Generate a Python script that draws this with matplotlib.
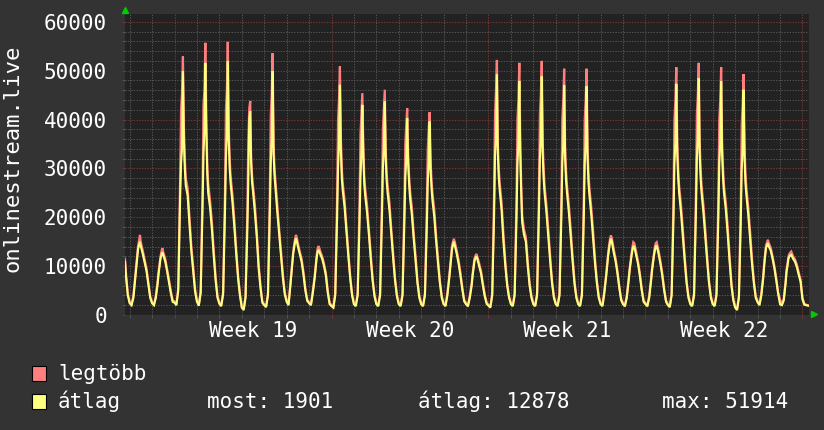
import matplotlib
matplotlib.use("Agg")
import matplotlib.pyplot as plt
from matplotlib.patches import Rectangle

# hours relative to the start of week 19; one row of values per day
offsets = [0, 2, 4, 6, 7, 8, 9, 10, 11, 12, 14, 16, 18, 20, 22]
days = list(range(-2, 28))

lead_hours = [-53, -52, -50]
lead_avg = [10900, 8000, 4000]
lead_max = [11500, 8600, 4400]

tail_hours = [672, 674, 676, 678]
tail_avg = [3200, 2100, 2000, 1901]
tail_max = [3500, 2300, 2100, 2000]

avg_vals = [
    2400, 2000, 3500, 7500, 9500, 11500, 13500, 14300, 15000, 14000, 12500, 10800, 9000, 6200, 3500,   # d-2
    2400, 2000, 3500, 6500, 8500, 10000, 11500, 12300, 12800, 12200, 11000, 9000, 6800, 4500, 2700,    # d-1
    2500, 2000, 5000, 24000, 31000, 34000, 49900, 36000, 30000, 26500, 24500, 18500, 13000, 9000, 4800,  # d0
    2700, 1900, 4500, 22000, 33000, 38000, 51600, 38000, 29000, 25000, 22000, 17500, 12000, 7000, 3500,
    2300, 1800, 4200, 21000, 32000, 37000, 51900, 36000, 30000, 27000, 23000, 18000, 12500, 7500, 4000,
    1500, 1000, 3500, 18000, 28000, 40000, 41700, 31000, 27000, 25300, 21000, 16000, 9600, 5500, 2500,
    2000, 1600, 4000, 21000, 31000, 36000, 49900, 33000, 28500, 26000, 21000, 16500, 12000, 7500, 4200,
    2700, 2000, 6000, 10500, 12500, 13700, 15000, 15700, 15000, 14000, 12500, 10900, 8200, 5000, 2900,  # d5
    2400, 2000, 4500, 7500, 9500, 11500, 12800, 13300, 13000, 12400, 11500, 10000, 8000, 4500, 2200,
    1800, 1500, 4000, 20000, 30000, 35000, 47100, 34000, 28000, 25500, 22000, 17000, 12000, 7500, 4000,  # d7
    2200, 1800, 4000, 19000, 28000, 33000, 43000, 33000, 27000, 24500, 21000, 16500, 11500, 7000, 3800,
    2200, 1800, 4000, 20000, 30000, 34000, 43700, 32000, 27500, 25000, 21500, 16500, 11500, 7000, 3800,
    2200, 1800, 4000, 19000, 28000, 32000, 40300, 31000, 27000, 24000, 20500, 15500, 11000, 6500, 3500,
    2200, 1800, 4000, 18000, 27000, 31000, 39600, 30000, 26000, 23500, 20000, 15000, 10500, 6500, 3500,
    2200, 1800, 4000, 7500, 9500, 11500, 13500, 14300, 15000, 14200, 12500, 10500, 8000, 5200, 2800,   # d12
    2200, 1800, 3500, 6000, 8000, 9500, 11000, 11600, 12000, 11500, 10000, 8500, 6000, 3800, 2300,
    1900, 1500, 4000, 20500, 32800, 36000, 49200, 32800, 28000, 25500, 21500, 15000, 10000, 6000, 3500,  # d14
    2200, 1800, 4000, 20000, 31000, 35000, 47900, 33000, 25000, 19000, 16400, 15000, 10000, 6000, 3500,
    2200, 1800, 4000, 21000, 32000, 36000, 48800, 33000, 28000, 25000, 21000, 16000, 11000, 6500, 3500,
    2200, 1800, 4000, 20000, 31000, 35000, 47000, 32000, 27500, 25000, 21000, 16000, 11000, 6500, 3500,
    2200, 1800, 4000, 20000, 31000, 35000, 46800, 32000, 27000, 24500, 20500, 15500, 10500, 6500, 3500,
    2200, 1800, 4500, 8000, 10000, 12000, 13500, 14800, 15600, 15000, 12800, 11000, 8500, 5500, 3000,  # d19
    2200, 1800, 3500, 7000, 9000, 10500, 12000, 13200, 14000, 14000, 12300, 10500, 8000, 5000, 2700,
    2200, 1800, 3500, 7000, 9000, 10500, 12000, 13200, 14000, 14200, 12500, 10500, 8000, 5000, 2700,
    2000, 1600, 4000, 20000, 31000, 35000, 47300, 33000, 28000, 25000, 21000, 16000, 11000, 6500, 3500,  # d22
    2200, 1800, 4000, 21000, 32000, 36000, 48500, 33000, 28000, 25000, 21000, 16000, 11000, 6500, 3500,
    2200, 1800, 4000, 20000, 31000, 35000, 47800, 33000, 28000, 25000, 21500, 16500, 11000, 6000, 3000,
    1500, 1000, 3500, 19000, 30000, 34000, 46100, 32000, 27000, 24500, 20500, 15500, 10500, 6500, 3500,
    2600, 2000, 4000, 7500, 10000, 12000, 13700, 14200, 14700, 14000, 13200, 11500, 9500, 7000, 4300,  # d26
    2200, 2000, 3000, 6500, 8900, 10000, 11500, 12000, 12200, 12300, 11500, 10900, 9800, 8200, 6800,
]

max_vals = [
    2600, 2200, 4000, 8000, 10000, 12000, 14200, 15200, 16400, 14800, 13200, 11400, 9500, 6700, 3800,
    2600, 2200, 4000, 7000, 9000, 10500, 12000, 13000, 13700, 12800, 11600, 9500, 7300, 5000, 3000,
    2800, 2200, 5500, 28000, 42000, 45400, 52900, 38600, 32000, 28000, 26000, 20000, 14000, 9800, 5300,
    3000, 2100, 5000, 26000, 43000, 46000, 55700, 40000, 31000, 27000, 23500, 19000, 13000, 7800, 3900,
    2500, 2000, 4700, 25000, 42000, 46000, 55900, 38500, 32000, 28500, 24500, 19500, 13500, 8200, 4400,
    1700, 1200, 4000, 22000, 36000, 42300, 43800, 32000, 28500, 26500, 22500, 17000, 10500, 6000, 2800,
    2200, 1800, 4500, 25000, 41000, 45000, 53600, 35000, 30000, 27500, 22500, 17500, 13000, 8200, 4600,
    3000, 2200, 6500, 11000, 13000, 14300, 15600, 16400, 15700, 14700, 13000, 11500, 8800, 5500, 3200,
    2600, 2200, 5000, 8000, 10000, 12000, 13500, 14100, 13700, 13000, 12000, 10500, 8500, 5000, 2500,
    2000, 1700, 4500, 24000, 40000, 44000, 50900, 36500, 30000, 27000, 23500, 18000, 13000, 8000, 4400,
    2400, 2000, 4500, 23000, 37000, 41000, 45400, 35000, 28500, 26000, 22500, 17500, 12500, 7500, 4200,
    2400, 2000, 4500, 24000, 38000, 42000, 46100, 34000, 29000, 26500, 23000, 17500, 12500, 7500, 4200,
    2400, 2000, 4500, 23000, 35000, 39000, 42300, 33000, 28500, 25500, 22000, 16500, 12000, 7000, 3900,
    2400, 2000, 4500, 22000, 34000, 38000, 41500, 32000, 27500, 25000, 21500, 16000, 11500, 7000, 3900,
    2400, 2000, 4500, 8000, 10000, 12000, 14200, 15000, 15600, 14900, 13200, 11200, 8600, 5600, 3100,
    2400, 2000, 4000, 6500, 8500, 10000, 11600, 12100, 12500, 12000, 10600, 9000, 6500, 4200, 2600,
    2100, 1700, 4500, 25000, 41000, 45800, 52200, 35000, 30000, 27000, 23000, 16500, 11000, 6500, 3900,
    2400, 2000, 4500, 24000, 40000, 44000, 51600, 35500, 27000, 20500, 17500, 16000, 11000, 6500, 3900,
    2400, 2000, 4500, 25000, 41000, 45000, 52000, 35500, 30000, 26500, 22500, 17500, 12000, 7000, 3900,
    2400, 2000, 4500, 24000, 40000, 44000, 50400, 34500, 29500, 26500, 22500, 17500, 12000, 7000, 3900,
    2400, 2000, 4500, 24000, 40000, 44000, 50400, 34500, 29000, 26000, 22000, 17000, 11500, 7000, 3900,
    2400, 2000, 5000, 8500, 10500, 12500, 14200, 15500, 16300, 15700, 13500, 11600, 9000, 5900, 3300,
    2400, 2000, 4000, 7500, 9500, 11000, 12600, 13900, 14900, 14700, 13000, 11000, 8500, 5400, 3000,
    2400, 2000, 4000, 7500, 9500, 11000, 12600, 13900, 14700, 14900, 13200, 11000, 8500, 5400, 3000,
    2200, 1800, 4500, 24000, 40000, 44000, 50700, 35500, 30000, 26500, 22500, 17500, 12000, 7000, 3900,
    2400, 2000, 4500, 25000, 41000, 45000, 51600, 35500, 30000, 26500, 22500, 17500, 12000, 7000, 3900,
    2400, 2000, 4500, 24000, 40000, 44000, 50700, 35500, 30000, 26500, 23000, 18000, 12000, 6500, 3300,
    1700, 1200, 4000, 23000, 39000, 43000, 49300, 34500, 29000, 26000, 22000, 17000, 11500, 7000, 3900,
    2800, 2200, 4500, 8000, 10500, 12500, 14300, 14800, 15400, 14700, 13800, 12000, 10000, 7500, 4600,
    3200, 2200, 3300, 7000, 9400, 10500, 12000, 12500, 12800, 13000, 12000, 11400, 10300, 8700, 7200,
]

week_labels = ["Week 19", "Week 20", "Week 21", "Week 22"]
legend_stats = ["most: 1901", "átlag: 12878", "max: 51914"]

hours = lead_hours + [d * 24 + o for d in days for o in offsets] + tail_hours
avg = lead_avg + avg_vals + tail_avg
mx = lead_max + max_vals + tail_max

plt.rcParams['font.family'] = ['DejaVu Sans Mono']
W, H = 824, 430
fig = plt.figure(figsize=(W / 100, H / 100), dpi=100, facecolor='#333333')
ax = fig.add_axes([125 / W, (H - 315) / H, (809 - 125) / W, (315 - 14) / H])
ax.set_facecolor('#222222')

ax.set_xlim(-53, 679)
ax.set_ylim(0, 61600)

ax.set_xticks(range(0, 679, 168))
ax.set_xticks(range(-48, 679, 24), minor=True)
ax.set_yticks(range(0, 60001, 10000))
ax.set_yticks(range(0, 61601, 2000), minor=True)
ax.set_xticklabels([])
ax.set_yticklabels([str(v) for v in range(0, 60001, 10000)])

dots = (0, (1.4, 1.4))
ax.grid(which='minor', color='#555555', linestyle=dots, linewidth=0.7)
ax.grid(which='major', color='#773838', linestyle=dots, linewidth=0.7)
ax.set_axisbelow(True)

ax.tick_params(which='major', length=2, width=0.7, color='#773838', direction='out',
               labelsize=15, labelcolor='white', pad=11)
ax.tick_params(which='minor', length=2, width=0.7, color='#555555', direction='out')
for s in ax.spines.values():
    s.set_visible(False)

ax.plot(hours, mx, color='#ff7f7f', linewidth=1.6, solid_joinstyle='miter')
ax.plot(hours, avg, color='#ffff7f', linewidth=1.5, solid_joinstyle='miter')

xt = ax.get_xaxis_transform()
for i, lab in enumerate(week_labels):
    ax.text(84 + 168 * i, -0.053, lab, transform=xt, ha='center', va='center',
            color='white', fontsize=15)

# arrows at the axis ends
ax.plot([0], [1.013], marker='^', color='#00cc00', markersize=4, transform=ax.transAxes, clip_on=False)
ax.plot([1.007], [0.003], marker='>', color='#00cc00', markersize=4, transform=ax.transAxes, clip_on=False)

fig.text(13 / W, 1 - 158 / H, "onlinestream.live", rotation=90, ha='center', va='center',
         color='white', fontsize=16)

# legend
for yc, col, lab in [(373.5, '#ff7f7f', 'legtöbb'), (401.5, '#ffff7f', 'átlag')]:
    fig.patches.append(Rectangle((32 / W, 1 - (yc + 7.5) / H), 14 / W, 15 / H, transform=fig.transFigure,
                                 facecolor=col, edgecolor='black', linewidth=0.8))
    fig.text(58 / W, 1 - yc / H, lab, ha='left', va='center', color='white', fontsize=15)
for xs, lab in zip([207, 418, 662], legend_stats):
    fig.text(xs / W, 1 - 401.5 / H, lab, ha='left', va='center', color='white', fontsize=15)

fig.savefig('out.png', dpi=100, facecolor=fig.get_facecolor())
